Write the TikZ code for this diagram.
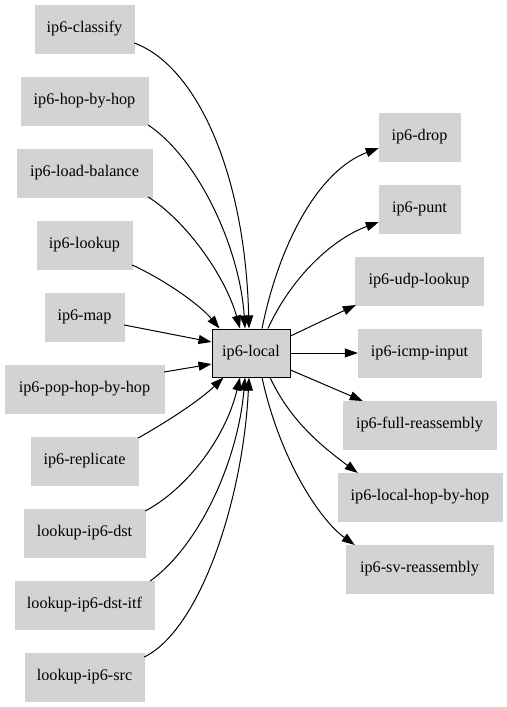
\documentclass[tikz,border=0pt]{standalone}
\usepackage{fontspec}
\setmainfont{Liberation Serif}
\usetikzlibrary{arrows.meta,calc}
\definecolor{nodegray}{HTML}{D3D3D3}
\tikzset{
  gnode/.style={fill=nodegray, draw=nodegray, minimum height=48bp, inner xsep=0pt, inner ysep=0pt,
    font=\fontsize{16.2bp}{19bp}\selectfont, text=black},
  mainnode/.style={gnode, draw=black, line width=1bp},
  edge/.style={line width=1bp, draw=black, -{Triangle[length=13bp,width=9bp]}}
}
\begin{document}
\begin{tikzpicture}[x=1bp,y=-1bp]
\fill[white] (0,0) rectangle (507,707);
\useasboundingbox (0,0) rectangle (507,707);
% left nodes
\node[gnode, minimum width=99bp] (classify) at (84.5,29) {ip6-classify};
\node[gnode, minimum width=127bp] (hbh) at (84.5,101) {ip6-hop-by-hop};
\node[gnode, minimum width=135bp] (lb) at (84.5,173) {ip6-load-balance};
\node[gnode, minimum width=95bp] (lookup) at (84.5,245) {ip6-lookup};
\node[gnode, minimum width=79bp] (map) at (84.5,317) {ip6-map};
\node[gnode, minimum width=159bp] (pop) at (84.5,389) {ip6-pop-hop-by-hop};
\node[gnode, minimum width=107bp] (repl) at (84.5,461) {ip6-replicate};
\node[gnode, minimum width=121bp] (dst) at (84.5,533) {lookup-ip6-dst};
\node[gnode, minimum width=139bp] (dstitf) at (84.5,605) {lookup-ip6-dst-itf};
\node[gnode, minimum width=119bp] (src) at (84.5,677) {lookup-ip6-src};
% center
\node[mainnode, minimum width=78bp] (local) at (251,353) {ip6-local};
% right nodes
\node[gnode, minimum width=81bp] (drop) at (419.5,137) {ip6-drop};
\node[gnode, minimum width=81bp] (punt) at (419.5,209) {ip6-punt};
\node[gnode, minimum width=128bp] (udp) at (419,281) {ip6-udp-lookup};
\node[gnode, minimum width=123bp] (icmp) at (419.5,353) {ip6-icmp-input};
\node[gnode, minimum width=153bp] (full) at (419.5,425) {ip6-full-reassembly};
\node[gnode, minimum width=164bp] (lhbh) at (420,497) {ip6-local-hop-by-hop};
\node[gnode, minimum width=147bp] (sv) at (419.5,569) {ip6-sv-reassembly};
% incoming edges
\draw[edge] ($(classify.east)+(0,14)$) .. controls (195,65) and (245,170) .. ($(local.north)+(-2,0)$);
\draw[edge] ($(hbh.east)+(0,24)$) .. controls (200,160) and (240,250) .. ($(local.north)+(-6,0)$);
\draw[edge] ($(lb.east)+(-4,24)$) .. controls (185,220) and (225,275) .. ($(local.north)+(-11,0)$);
\draw[edge] ($(lookup.east)+(0,20)$) .. controls (165,280) and (200,305) .. ($(local.north west)+(8,0)$);
\draw[edge] ($(map.east)+(0,8)$) -- ($(local.west)+(0,-11)$);
\draw[edge] ($(pop.east)+(0,-17)$) -- ($(local.west)+(0,11)$);
\draw[edge] ($(repl.east)+(0,-23)$) .. controls (170,420) and (200,400) .. ($(local.south west)+(12,0)$);
\draw[edge] ($(dst.east)+(0,-22)$) .. controls (185,490) and (225,440) .. ($(local.south)+(-11,0)$);
\draw[edge] ($(dstitf.east)+(-4,-24)$) .. controls (200,545) and (238,460) .. ($(local.south)+(-6,0)$);
\draw[edge] ($(src.east)+(0,-20)$) .. controls (200,630) and (243,500) .. ($(local.south)+(-2,0)$);
% outgoing edges
\draw[edge] ($(local.north)+(11,0)$) .. controls (280,240) and (320,170) .. ($(drop.west)+(0,11)$);
\draw[edge] ($(local.north)+(17,0)$) .. controls (290,280) and (330,240) .. ($(punt.west)+(0,13)$);
\draw[edge] ($(local.east)+(0,-17)$) -- ($(udp.west)+(1,24)$);
\draw[edge] (local.east) -- (icmp.west);
\draw[edge] ($(local.east)+(0,17)$) -- ($(full.west)+(20,-24)$);
\draw[edge] ($(local.south)+(19,0)$) .. controls (290,420) and (320,445) .. ($(lhbh.west)+(20,-24)$);
\draw[edge] ($(local.south)+(11,0)$) .. controls (280,460) and (320,520) .. ($(sv.west)+(9,-24)$);
\end{tikzpicture}
\end{document}
